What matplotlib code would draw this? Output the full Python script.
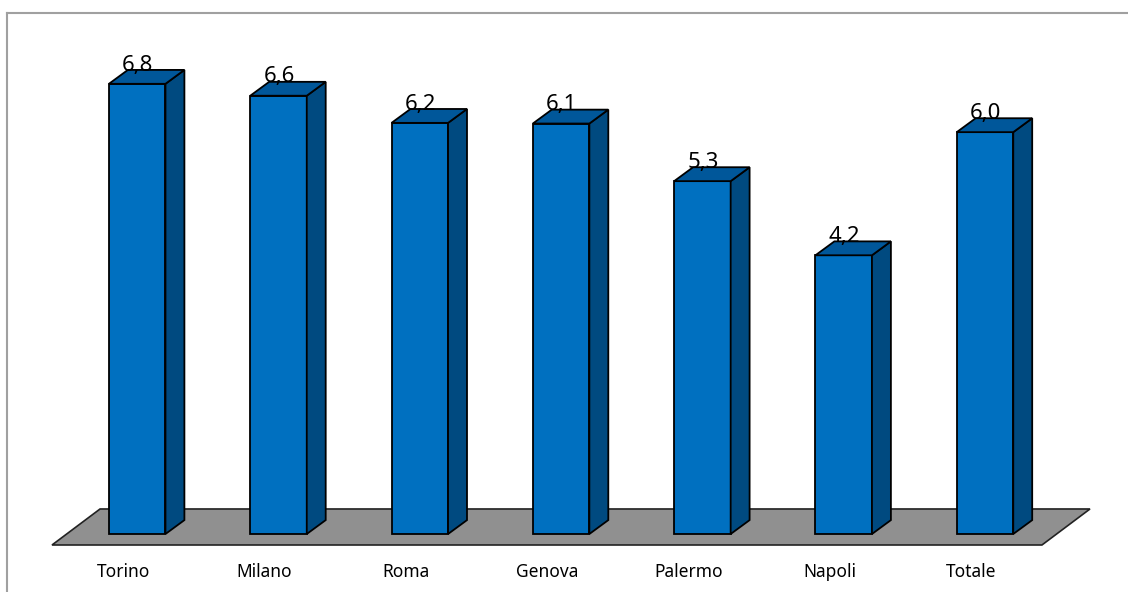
import matplotlib.pyplot as plt
from matplotlib.patches import Polygon
from matplotlib.lines import Line2D

# dati
citta = ["Torino", "Milano", "Roma", "Genova", "Palermo", "Napoli", "Totale"]
valori = [6.8, 6.62, 6.21, 6.2, 5.33, 4.21, 6.07]   # altezze
etichette = ["6,8", "6,6", "6,2", "6,1", "5,3", "4,2", "6,0"]

FRONTE = "#0070C0"
TOP = "#00579A"
LATO = "#004A80"
PAVIMENTO = "#909090"

larg = 0.40      # larghezza barra (unita categoria)
dx, dy = 0.134, 0.21   # profondita finta 3D

fig = plt.figure(figsize=(11.28, 5.92), dpi=100)
ax = fig.add_axes([0, 0, 1, 1])
ax.set_xlim(-0.971, 7.012)
ax.set_ylim(-0.876, 8.066)
ax.axis("off")

# bordo grafico (solo sinistra e alto visibili)
fig.add_artist(Line2D([7 / 1128, 7 / 1128], [0, 1 - 12.5 / 592], color="#a0a0a0", lw=1.5))
fig.add_artist(Line2D([7 / 1128, 1], [1 - 12.5 / 592, 1 - 12.5 / 592], color="#a0a0a0", lw=1.5))

# pavimento
n = len(citta)
f_y0, f_y1 = -0.166, 0.378
f_x0, f_x1 = -0.603, n - 1 + 0.403
sh = 0.34
ax.add_patch(Polygon([(f_x0, f_y0), (f_x1, f_y0), (f_x1 + sh, f_y1), (f_x0 + sh, f_y1)],
                     closed=True, facecolor=PAVIMENTO, edgecolor="#222222", lw=1.2, zorder=1))

for i, (c, v, et) in enumerate(zip(citta, valori, etichette)):
    x0 = i - larg / 2
    x1 = i + larg / 2
    # faccia frontale
    ax.add_patch(Polygon([(x0, 0), (x1, 0), (x1, v), (x0, v)], closed=True,
                         facecolor=FRONTE, edgecolor="black", lw=1.3, zorder=3))
    # lato
    ax.add_patch(Polygon([(x1, 0), (x1 + dx, dy), (x1 + dx, v + dy), (x1, v)], closed=True,
                         facecolor=LATO, edgecolor="black", lw=1.3, zorder=3))
    # sopra
    ax.add_patch(Polygon([(x0, v), (x1, v), (x1 + dx, v + dy), (x0 + dx, v + dy)], closed=True,
                         facecolor=TOP, edgecolor="black", lw=1.3, zorder=3))
    ax.text(i + 0.005, v + 0.2, et, ha="center", va="baseline",
            fontsize=16, family="Noto Sans", zorder=5)
    ax.text(i - 0.1, -0.574, c, ha="center", va="center", fontsize=12.5, family="Noto Sans")

fig.savefig("out.png", dpi=100)
